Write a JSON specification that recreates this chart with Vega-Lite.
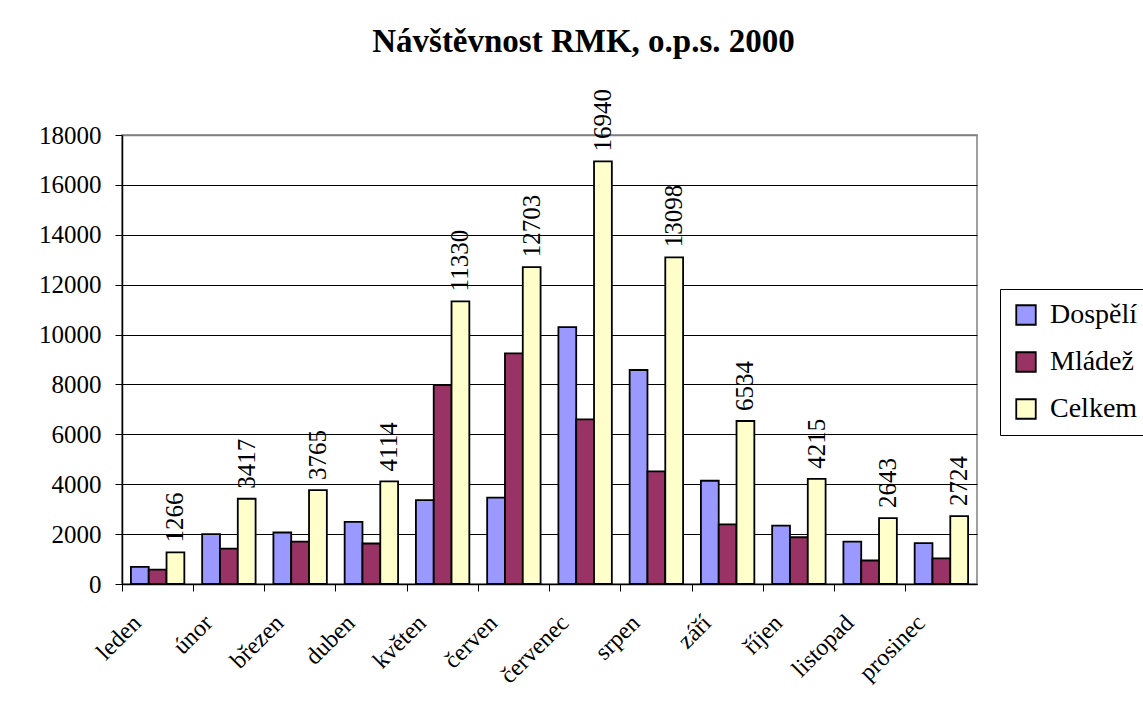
{
  "$schema": "https://vega.github.io/schema/vega-lite/v6.json",
  "autosize": "none",
  "width": 855,
  "height": 449,
  "padding": {"left": 122, "top": 135, "right": 166, "bottom": 130},
  "background": "white",
  "title": {
    "text": "Návštěvnost RMK, o.p.s. 2000",
    "font": "Liberation Serif",
    "fontSize": 33,
    "fontWeight": "bold",
    "color": "black",
    "anchor": "middle",
    "frame": "group",
    "dx": 34,
    "baseline": "alphabetic",
    "offset": 4
  },
  "config": {
    "view": {"stroke": "#808080", "strokeWidth": 1.5},
    "axis": {"labelFont": "Liberation Serif", "labelColor": "black", "titleFont": "Liberation Serif"}
  },
  "data": {
    "values": [
      {"month": "leden", "series": "Dospělí", "value": 690},
      {"month": "leden", "series": "Mládež", "value": 576},
      {"month": "leden", "series": "Celkem", "value": 1266},
      {"month": "únor", "series": "Dospělí", "value": 2000},
      {"month": "únor", "series": "Mládež", "value": 1417},
      {"month": "únor", "series": "Celkem", "value": 3417},
      {"month": "březen", "series": "Dospělí", "value": 2065},
      {"month": "březen", "series": "Mládež", "value": 1700},
      {"month": "březen", "series": "Celkem", "value": 3765},
      {"month": "duben", "series": "Dospělí", "value": 2490},
      {"month": "duben", "series": "Mládež", "value": 1624},
      {"month": "duben", "series": "Celkem", "value": 4114},
      {"month": "květen", "series": "Dospělí", "value": 3360},
      {"month": "květen", "series": "Mládež", "value": 7970},
      {"month": "květen", "series": "Celkem", "value": 11330},
      {"month": "červen", "series": "Dospělí", "value": 3460},
      {"month": "červen", "series": "Mládež", "value": 9243},
      {"month": "červen", "series": "Celkem", "value": 12703},
      {"month": "červenec", "series": "Dospělí", "value": 10300},
      {"month": "červenec", "series": "Mládež", "value": 6600},
      {"month": "červenec", "series": "Celkem", "value": 16940},
      {"month": "srpen", "series": "Dospělí", "value": 8580},
      {"month": "srpen", "series": "Mládež", "value": 4518},
      {"month": "srpen", "series": "Celkem", "value": 13098},
      {"month": "září", "series": "Dospělí", "value": 4140},
      {"month": "září", "series": "Mládež", "value": 2394},
      {"month": "září", "series": "Celkem", "value": 6534},
      {"month": "říjen", "series": "Dospělí", "value": 2340},
      {"month": "říjen", "series": "Mládež", "value": 1875},
      {"month": "říjen", "series": "Celkem", "value": 4215},
      {"month": "listopad", "series": "Dospělí", "value": 1700},
      {"month": "listopad", "series": "Mládež", "value": 943},
      {"month": "listopad", "series": "Celkem", "value": 2643},
      {"month": "prosinec", "series": "Dospělí", "value": 1640},
      {"month": "prosinec", "series": "Mládež", "value": 1030},
      {"month": "prosinec", "series": "Celkem", "value": 2724}
    ]
  },
  "encoding": {
    "x": {
      "field": "month",
      "type": "nominal",
      "sort": ["leden", "únor", "březen", "duben", "květen", "červen", "červenec", "srpen", "září", "říjen", "listopad", "prosinec"],
      "scale": {"paddingInner": 0, "paddingOuter": 0},
      "axis": {
        "title": null,
        "bandPosition": 0,
        "labelAngle": -45,
        "labelAlign": "right",
        "labelBaseline": "middle",
        "labelOffset": -20,
        "labelPadding": 28,
        "labelFontSize": 24,
        "tickSize": 7,
        "tickColor": "black",
        "domainColor": "black",
        "domainWidth": 1.5,
        "grid": false
      }
    },
    "xOffset": {
      "field": "series",
      "type": "nominal",
      "sort": ["Dospělí", "Mládež", "Celkem"],
      "scale": {"domain": ["Dospělí", "Mládež", "Celkem"], "paddingInner": 0, "paddingOuter": 0.5}
    },
    "y": {
      "field": "value",
      "type": "quantitative",
      "scale": {"domain": [0, 18000], "nice": false},
      "axis": {
        "title": null,
        "values": [0, 2000, 4000, 6000, 8000, 10000, 12000, 14000, 16000, 18000],
        "format": "d",
        "labelFontSize": 25,
        "labelPadding": 14,
        "tickSize": 7,
        "tickColor": "black",
        "domainColor": "black",
        "domainWidth": 1.5,
        "grid": true,
        "gridColor": {"condition": {"test": "datum.value == 18000", "value": "#808080"}, "value": "black"},
        "gridWidth": {"condition": {"test": "datum.value == 18000", "value": 1.5}, "value": 1},
        "gridOpacity": 1
      }
    }
  },
  "layer": [
    {
      "mark": {"type": "bar", "stroke": "black", "strokeWidth": 1.8},
      "encoding": {
        "color": {
          "field": "series",
          "type": "nominal",
          "sort": ["Dospělí", "Mládež", "Celkem"],
          "scale": {"domain": ["Dospělí", "Mládež", "Celkem"], "range": ["#9999FF", "#993366", "#FFFFCC"]},
          "legend": {
            "title": null,
            "orient": "none",
            "legendX": 878,
            "legendY": 154,
            "direction": "vertical",
            "strokeColor": "black",
            "fillColor": "white",
            "padding": 12,
            "symbolType": "square",
            "symbolSize": 380,
            "symbolStrokeColor": "black",
            "symbolStrokeWidth": 1.8,
            "symbolOpacity": 1,
            "labelFont": "Liberation Serif",
            "labelFontSize": 28,
            "labelColor": "black",
            "labelOffset": 10,
            "rowPadding": 19,
            "labelLimit": 300
          }
        }
      }
    },
    {
      "transform": [{"filter": "datum.series == 'Celkem'"}],
      "mark": {
        "type": "text",
        "angle": -90,
        "align": "left",
        "baseline": "middle",
        "dx": 10,
        "font": "Liberation Serif",
        "fontSize": 25,
        "color": "black"
      },
      "encoding": {
        "text": {"field": "value", "type": "quantitative", "format": "d"}
      }
    }
  ]
}
